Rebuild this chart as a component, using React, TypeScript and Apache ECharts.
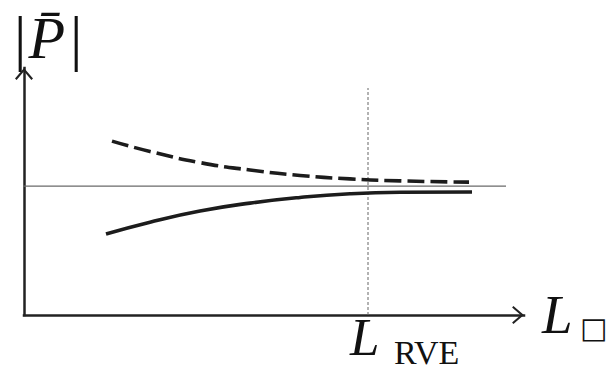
import React, { useEffect, useRef } from "react";
import * as echarts from "echarts";

// Upper (dashed) curve
const dashedX = [17.6, 25.2, 35.2, 45.2, 55.2, 65.2, 75.2, 89.0];
const dashedY = [70.4, 66.2, 61.7, 58.7, 56.5, 55.1, 54.3, 53.8];
// Lower (solid) curve
const solidX = [16.4, 25.2, 35.2, 45.2, 55.2, 65.2, 75.2, 89.6];
const solidY = [32.8, 37.6, 42.1, 45.3, 47.6, 49.1, 49.7, 49.8];
// Horizontal reference level
const refLevel = 52.2;
const refLineX = [-2.4, 96.4];
// RVE size marker
const rveX = 68.8;
const rveY = [0, 91.9];

const yLabel = "P\u0304";
const xLabel = "L";
const xSub = "\u25A1";
const rveLabel = "L";
const rveSub = "RVE";

const ARROW =
  "path://M9,0 L18,10.5 L16.4,11.8 L9,3.2 L1.6,11.8 L0,10.5 Z";

export default function App() {
  const ref = useRef<HTMLDivElement>(null);
  useEffect(() => {
    if (!ref.current) return;
    const chart = echarts.init(ref.current, null, { renderer: "svg" });
    const zip = (xs: number[], ys: number[]) => xs.map((x, i) => [x, ys[i]]);
    const axisCommon = {
      type: "value" as const,
      min: 0,
      max: 100,
      splitLine: { show: false },
      axisTick: { show: false },
      axisLabel: { show: false },
      axisLine: {
        show: true,
        symbol: ["none", ARROW],
        symbolSize: [18, 12],
        symbolOffset: [0, -6],
        lineStyle: { color: "#222", width: 2.5, cap: "square" as const },
      },
    };
    chart.setOption({
      animation: false,
      backgroundColor: "#fff",
      grid: { left: 24, top: 68, right: 83, bottom: 55 },
      xAxis: axisCommon,
      yAxis: axisCommon,
      series: [
        {
          type: "line",
          data: refLineX.map((x) => [x, refLevel]),
          symbol: "none",
          clip: false,
          silent: true,
          lineStyle: { color: "#6a6a6a", width: 1.3 },
        },
        {
          type: "line",
          data: rveY.map((y) => [rveX, y]),
          symbol: "none",
          clip: false,
          silent: true,
          lineStyle: { color: "#666", width: 1, type: [3, 2] },
        },
        {
          type: "line",
          data: zip(dashedX, dashedY),
          symbol: "none",
          smooth: 0.5,
          silent: true,
          lineStyle: { color: "#1c1c1c", width: 3.6, type: [17, 6], cap: "butt" },
        },
        {
          type: "line",
          data: zip(solidX, solidY),
          symbol: "none",
          smooth: 0.5,
          silent: true,
          lineStyle: { color: "#1c1c1c", width: 3.6 },
        },
      ],
      graphic: [
        {
          type: "text",
          x: 14,
          y: 38,
          style: {
            text: "{b||}{p|" + yLabel + "}{b||}",
            verticalAlign: "middle",
            textAlign: "left",
            fill: "#111",
            rich: {
              b: { fontFamily: "Liberation Serif", fontSize: 62, fill: "#111" },
              p: {
                fontFamily: "Liberation Serif",
                fontStyle: "italic",
                fontSize: 60,
                fill: "#111",
                padding: [0, 5, 0, 2],
              },
            },
          },
        },
        {
          type: "text",
          x: 542,
          y: 314,
          style: {
            text: xLabel,
            fontFamily: "Liberation Serif",
            fontStyle: "italic",
            fontSize: 55,
            fill: "#111",
            verticalAlign: "middle",
            textAlign: "left",
          },
        },
        {
          type: "text",
          x: 594,
          y: 328,
          style: {
            text: xSub,
            fontFamily: "DejaVu Sans",
            fontSize: 29,
            fill: "#111",
            verticalAlign: "middle",
            textAlign: "center",
          },
        },
        {
          type: "text",
          x: 350,
          y: 337,
          style: {
            text: rveLabel,
            fontFamily: "Liberation Serif",
            fontStyle: "italic",
            fontSize: 53,
            fill: "#111",
            verticalAlign: "middle",
            textAlign: "left",
          },
        },
        {
          type: "text",
          x: 394,
          y: 369,
          style: {
            text: rveSub,
            fontFamily: "Liberation Serif",
            fontSize: 34,
            lineHeight: 34,
            fill: "#111",
            verticalAlign: "bottom",
            textAlign: "left",
          },
        },
      ],
    });
    return () => chart.dispose();
  }, []);
  return (
    <div
      ref={ref}
      style={{ position: "fixed", left: 0, top: 0, width: 607, height: 370, background: "#fff" }}
    />
  );
}
